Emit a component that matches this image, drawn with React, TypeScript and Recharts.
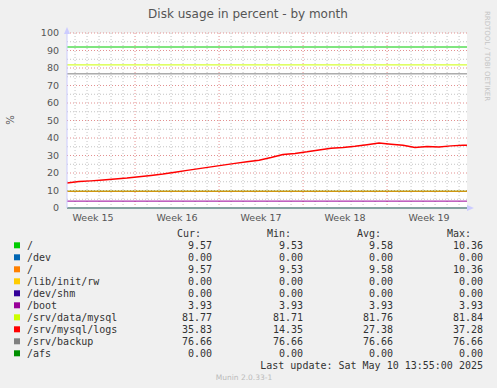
import { LineChart, Line, XAxis, YAxis, ReferenceLine } from "recharts"

// days since start of the month window
const days = [0, 1, 2, 3, 4, 5, 6, 7, 8, 9, 10, 11, 12, 13, 14, 15, 16, 17, 18, 19, 20, 21, 22, 23, 24, 25, 26, 27, 28, 29, 30, 31, 32, 33, 33.33]

const mysqlLogs = [
  14.3, 15.1, 15.5, 16.0, 16.6, 17.1, 17.8, 18.6, 19.4, 20.4, 21.5, 22.5, 23.5, 24.5, 25.5, 26.4, 27.3, 28.8,
  30.6, 31.2, 32.1, 33.2, 34.1, 34.6, 35.3, 36.2, 37.1, 36.4, 35.8, 34.6, 35.1, 34.9, 35.5, 35.8, 35.83,
]

const rootLevel = 9.57
const bootLevel = 3.93
const dataMysqlLevel = 81.77
const backupLevel = 76.66
const warningLevel = 92

const weekLabels = ["Week 15", "Week 16", "Week 17", "Week 18", "Week 19"]
const weekCenters = [2.17, 9.17, 16.17, 23.17, 30.17]
const weekStarts = [5.67, 12.67, 19.67, 26.67]
const yTicks = [0, 10, 20, 30, 40, 50, 60, 70, 80, 90, 100]

const legendNames = ["/", "/dev", "/", "/lib/init/rw", "/dev/shm", "/boot", "/srv/data/mysql", "/srv/mysql/logs", "/srv/backup", "/afs"]
const legendColors = ["#00cc00", "#0066b3", "#ff8000", "#ffcc00", "#330099", "#990099", "#ccff00", "#ff0000", "#808080", "#008f00"]
const curValues = ["9.57", "0.00", "9.57", "0.00", "0.00", "3.93", "81.77", "35.83", "76.66", "0.00"]
const minValues = ["9.53", "0.00", "9.53", "0.00", "0.00", "3.93", "81.71", "14.35", "76.66", "0.00"]
const avgValues = ["9.58", "0.00", "9.58", "0.00", "0.00", "3.93", "81.76", "27.38", "76.66", "0.00"]
const maxValues = ["10.36", "0.00", "10.36", "0.00", "0.00", "3.93", "81.84", "37.28", "76.66", "0.00"]

const data = days.map((d, i) => ({
  day: d,
  warning: warningLevel,
  root: rootLevel,
  dev: 0,
  root2: rootLevel,
  initrw: 0,
  shm: 0,
  boot: bootLevel,
  datamysql: dataMysqlLevel,
  logs: mysqlLogs[i],
  backup: backupLevel,
  afs: 0,
}))

const seriesKeys = ["root", "dev", "root2", "initrw", "shm", "boot", "datamysql", "logs", "backup", "afs"]

const minorX: number[] = []
weekStarts.forEach((w, wi) => {
  for (let k = wi === 0 ? -5 : 1; k <= 6; k++) {
    const v = w + k
    if (v > 0 && v < 33.33 && !weekStarts.includes(v)) minorX.push(v)
  }
})
const minorY = [5, 15, 25, 35, 45, 55, 65, 75, 85, 95]
const majorY = [10, 20, 30, 40, 50, 60, 70, 80, 90, 100]

const mono = "'DejaVu Sans Mono', monospace"
const sans = "'DejaVu Sans', sans-serif"

export default function App() {
  const rowY = (i: number) => 245.3 + i * 12
  return (
    <div style={{ position: "absolute", left: 0, top: 0, width: 497, height: 388, background: "#f0f0f0" }}>
      <div style={{ position: "absolute", left: 0, top: 0 }}>
        <LineChart width={497} height={225} data={data} margin={{ top: 33, right: 30, left: 0, bottom: 0 }}>
          <rect x={67} y={33} width={400} height={175} fill="#ffffff" />
          {minorX.map((v) => (
            <ReferenceLine key={"mx" + v} x={v} stroke="#c4c4c4" strokeDasharray="1 2" strokeWidth={1} />
          ))}
          {minorY.map((v) => (
            <ReferenceLine key={"my" + v} y={v} stroke="#c4c4c4" strokeDasharray="1 2" strokeWidth={1} />
          ))}
          {weekStarts.map((v) => (
            <ReferenceLine key={"wx" + v} x={v} stroke="#e39090" strokeDasharray="1 2" strokeWidth={1} />
          ))}
          {majorY.map((v) => (
            <ReferenceLine key={"My" + v} y={v} stroke="#e39090" strokeDasharray="1 2" strokeWidth={1} />
          ))}
          <XAxis
            dataKey="day"
            type="number"
            domain={[0, 33.33]}
            ticks={weekCenters}
            tickFormatter={(v) => weekLabels[weekCenters.indexOf(v)]}
            height={17}
            stroke="#ccccff"
            tickLine={false}
            tickSize={4}
            tickMargin={2}
            tick={{ fill: "#555555", fontSize: 9.5, fontFamily: sans }}
            interval={0}
          />
          <YAxis
            type="number"
            domain={[0, 100]}
            ticks={yTicks}
            width={67}
            stroke="#ccccff"
            tickLine={false}
            tick={{ fill: "#555555", fontSize: 9.5, fontFamily: sans }}
            interval={0}
          />
          <Line dataKey="warning" stroke="#00cc00" strokeWidth={1} dot={false} isAnimationActive={false} />
          {seriesKeys.map((k, i) => (
            <Line
              key={k}
              dataKey={k}
              stroke={legendColors[i]}
              strokeWidth={k === "logs" ? 1.5 : 1}
              dot={false}
              isAnimationActive={false}
            />
          ))}
        </LineChart>
      </div>
      <svg width={497} height={388} style={{ position: "absolute", left: 0, top: 0 }}>
        <text x={248} y={17.5} textAnchor="middle" fontFamily={sans} fontSize={12} fill="#555555">
          Disk usage in percent - by month
        </text>
        <text x={0} y={0} transform="translate(14,120) rotate(-90)" textAnchor="middle" fontFamily={sans} fontSize={10} fill="#555555">
          %
        </text>
        <text x={0} y={0} transform="translate(485,56) rotate(90)" textAnchor="middle" fontFamily={sans} fontSize={7} fill="#c4c4c4">
          RRDTOOL / TOBI OETIKER
        </text>
        <polygon points="64,34 70,34 67,27" fill="#ccccff" />
        <polygon points="467,205 467,211 474,208" fill="#ccccff" />
        <g fontFamily={mono} fontSize={10} fill="#333333">
          <text x={177} y={236.8}>Cur:</text>
          <text x={267} y={236.8}>Min:</text>
          <text x={357} y={236.8}>Avg:</text>
          <text x={447} y={236.8}>Max:</text>
          {legendNames.map((n, i) => (
            <g key={i}>
              <rect x={14} y={rowY(i) - 3} width={6} height={6} fill={legendColors[i]} />
              <text x={27} y={rowY(i) + 3.5}>{n}</text>
              <text x={212} y={rowY(i) + 3.5} textAnchor="end">{curValues[i]}</text>
              <text x={303} y={rowY(i) + 3.5} textAnchor="end">{minValues[i]}</text>
              <text x={393} y={rowY(i) + 3.5} textAnchor="end">{avgValues[i]}</text>
              <text x={483} y={rowY(i) + 3.5} textAnchor="end">{maxValues[i]}</text>
            </g>
          ))}
          <text x={483} y={368.5} textAnchor="end">
            Last update: Sat May 10 13:55:00 2025
          </text>
        </g>
        <text x={244} y={380} textAnchor="middle" fontFamily={sans} fontSize={7.5} fill="#bbbbbb">
          Munin 2.0.33-1
        </text>
      </svg>
    </div>
  )
}
